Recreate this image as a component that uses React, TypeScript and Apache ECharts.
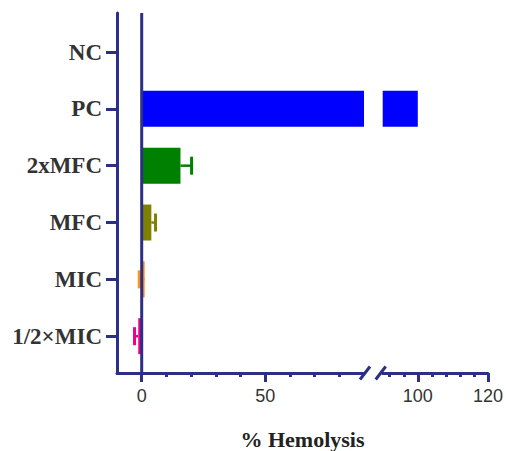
import React, { useEffect, useRef } from 'react';
import * as echarts from 'echarts';

const categories = ['NC', 'PC', '2xMFC', 'MFC', 'MIC', '1/2×MIC'];
const means = [0, 100, 15.7, 3.9, 1.2, -1.4];
const errorEnds: (number | null)[] = [null, null, 20.2, 5.6, -1.0, -2.9];
const barColors = ['#0000ff', '#0000ff', '#008000', '#808000', '#f7931e', '#ec008c'];
const lowRange = [-10, 90];
const highRange = [90, 120];
const lowTicksMajor = [0, 50];
const lowTicksMinor = [10, 20, 30, 40, 60, 70, 80];
const highTicksMajor = [100, 120];
const highTicksMinor = [92, 96, 104, 108, 112, 116];
const xTitle = '% Hemolysis';

const NAVY = '#2b2f86';
const LABEL = '#333333';

export default function App() {
  const ref = useRef<HTMLDivElement>(null);
  useEffect(() => {
    document.body.style.margin = '0';
    if (!ref.current) return;
    const chart = echarts.init(ref.current, undefined, { renderer: 'svg' });

    const axisLine = { show: true, onZero: false, lineStyle: { color: NAVY, width: 3 } };
    const majorTick = (vals: number[]) => ({
      show: true,
      customValues: vals,
      length: 9,
      lineStyle: { color: NAVY, width: 3 },
    });
    const minorTick = (vals: number[]) => ({
      show: true,
      customValues: vals,
      length: 4,
      lineStyle: { color: NAVY, width: 3 },
    });
    const numLabel = (vals: number[]) => ({
      show: true,
      customValues: vals,
      fontSize: 18,
      fontFamily: 'Liberation Sans, Arial, sans-serif',
      color: LABEL,
      margin: 14,
    });

    const barData = means.map((v, i) => ({ value: v, itemStyle: { color: barColors[i] } }));
    const errData = means
      .map((m, i) => (errorEnds[i] === null ? null : [m, i, errorEnds[i] as number, i]))
      .filter((d) => d !== null);

    const option: any = {
      animation: false,
      grid: [
        { left: 117, top: 13, width: 247, height: 360 },
        { left: 117, top: 23.6, width: 247, height: 341 },
        { left: 382.7, top: 13, width: 105.3, height: 360 },
        { left: 382.7, top: 23.6, width: 105.3, height: 341 },
      ],
      xAxis: [
        {
          gridIndex: 0, type: 'value', position: 'bottom', min: lowRange[0], max: lowRange[1],
          axisLine, axisTick: majorTick(lowTicksMajor), axisLabel: numLabel(lowTicksMajor),
          splitLine: { show: false },
        },
        {
          gridIndex: 0, type: 'value', position: 'bottom', min: lowRange[0], max: lowRange[1],
          axisLine: { show: false, onZero: false }, axisTick: minorTick(lowTicksMinor), axisLabel: { show: false },
          splitLine: { show: false },
        },
        { gridIndex: 1, type: 'value', min: lowRange[0], max: lowRange[1], show: false, axisLine: { onZero: false } },
        {
          gridIndex: 2, type: 'value', position: 'bottom', min: highRange[0], max: highRange[1],
          axisLine, axisTick: majorTick(highTicksMajor), axisLabel: numLabel(highTicksMajor),
          splitLine: { show: false },
        },
        {
          gridIndex: 2, type: 'value', position: 'bottom', min: highRange[0], max: highRange[1],
          axisLine: { show: false, onZero: false }, axisTick: minorTick(highTicksMinor), axisLabel: { show: false },
          splitLine: { show: false },
        },
        { gridIndex: 3, type: 'value', min: highRange[0], max: highRange[1], show: false, axisLine: { onZero: false } },
      ],
      yAxis: [
        {
          gridIndex: 0, type: 'value', min: 0, max: 1, position: 'left',
          axisLine, axisTick: { show: false }, axisLabel: { show: false }, splitLine: { show: false },
        },
        {
          gridIndex: 1, type: 'category', inverse: true, data: categories, position: 'left',
          axisLine: { show: false, onZero: false },
          axisTick: { show: true, alignWithLabel: true, length: 11, lineStyle: { color: NAVY, width: 3 } },
          axisLabel: {
            fontFamily: 'Liberation Serif, Times New Roman, serif',
            fontWeight: 'bold',
            fontSize: 23,
            color: LABEL,
            margin: 15,
          },
        },
        { gridIndex: 2, type: 'value', min: 0, max: 1, show: false, axisLine: { onZero: false } },
        { gridIndex: 3, type: 'category', inverse: true, data: categories, show: false, axisLine: { onZero: false } },
      ],
      series: [
        {
          type: 'bar', xAxisIndex: 2, yAxisIndex: 1, barWidth: 36, data: barData, clip: true, z: 2,
        },
        {
          type: 'bar', xAxisIndex: 5, yAxisIndex: 3, barWidth: 36, data: barData, clip: true, z: 2,
        },
        {
          type: 'custom', xAxisIndex: 2, yAxisIndex: 1, data: errData, z: 3,
          renderItem: (params: any, api: any) => {
            const m = api.value(0);
            const c = api.value(1);
            const e = api.value(2);
            const color = barColors[api.value(3)];
            const p0 = api.coord([m, c]);
            const p1 = api.coord([e, c]);
            const h = 18;
            return {
              type: 'group',
              children: [
                { type: 'line', shape: { x1: p0[0], y1: p0[1], x2: p1[0], y2: p1[1] }, style: { stroke: color, lineWidth: 2.5 } },
                { type: 'line', shape: { x1: p1[0], y1: p1[1] - h / 2, x2: p1[0], y2: p1[1] + h / 2 }, style: { stroke: color, lineWidth: 3 } },
              ],
            };
          },
        },
        {
          type: 'line', xAxisIndex: 0, yAxisIndex: 0, data: [[0, 0], [0, 1]],
          showSymbol: false, symbol: 'none', lineStyle: { color: NAVY, width: 3 }, z: 10, silent: true,
        },
      ],
    };
    chart.setOption(option);

    const yBase = chart.convertToPixel({ yAxisIndex: 0 }, 0) as number;
    const xEnd = chart.convertToPixel({ xAxisIndex: 0 }, lowRange[1]) as number;
    const xStart = chart.convertToPixel({ xAxisIndex: 3 }, highRange[0]) as number;
    const xMid = chart.convertToPixel({ xAxisIndex: 0 }, lowRange[0]) as number;
    const xRight = chart.convertToPixel({ xAxisIndex: 3 }, highRange[1]) as number;
    const slash = (x: number) => ({
      type: 'line',
      shape: { x1: x - 5, y1: yBase + 6.5, x2: x + 5, y2: yBase - 6.5 },
      style: { stroke: NAVY, lineWidth: 3 },
    });
    chart.setOption({
      graphic: [
        slash(xEnd + 1),
        slash(xStart - 2),
        {
          type: 'text',
          x: (xMid + xRight) / 2,
          y: 439,
          style: {
            text: xTitle,
            align: 'center',
            verticalAlign: 'middle',
            fontFamily: 'Liberation Serif, Times New Roman, serif',
            fontWeight: 'bold',
            fontSize: 22,
            fill: '#222222',
          },
        },
      ],
    });

    return () => chart.dispose();
  }, []);
  return <div ref={ref} style={{ width: 506, height: 451 }} />;
}
